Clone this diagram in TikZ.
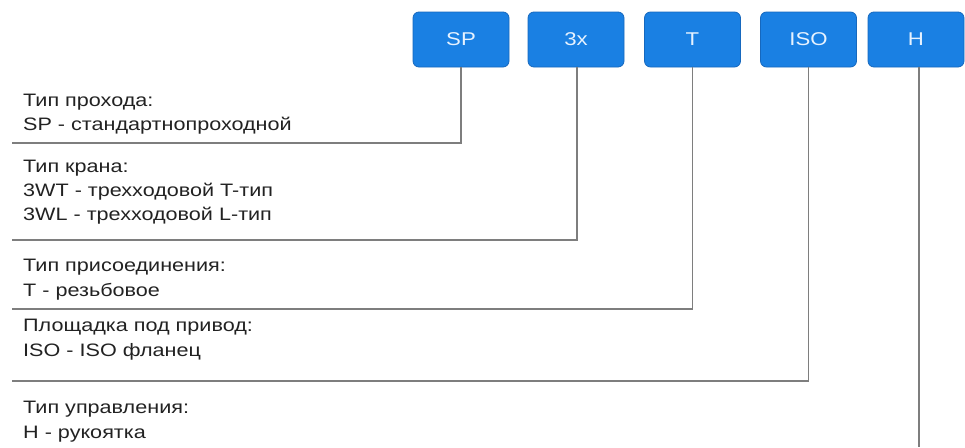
\documentclass[tikz,border=0pt]{standalone}
\usepackage{fontspec}
\setmainfont[FakeStretch=1.2]{Liberation Sans}
\definecolor{boxblue}{HTML}{1A80E3}
\definecolor{boxborder}{HTML}{1668BE}
\definecolor{boxtext}{HTML}{E6F2FF}
\definecolor{linegray}{HTML}{7E7E7E}
\definecolor{textdark}{HTML}{222222}
\begin{document}
\begin{tikzpicture}[x=1pt,y=-1pt,
  codebox/.style={draw=boxborder, line width=0.8pt, fill=boxblue, rounded corners=6pt,
    minimum width=96pt, minimum height=55pt, inner sep=0pt, text=boxtext,
    font=\fontsize{18.5}{18.5}\selectfont},
  lbl/.style={anchor=base west, inner sep=0pt, text=textdark,
    font=\fontsize{18}{20}\selectfont},
  conn/.style={draw=linegray, line width=1.3pt}]
\useasboundingbox (0,0) rectangle (965,447);
\fill[white] (0,0) rectangle (965,447);

\node[codebox] (SP)  at (461,39.5) {SP};
\node[codebox] (X)   at (576,39.5) {3x};
\node[codebox] (T)   at (692.5,39.5) {T};
\node[codebox] (ISO) at (808.5,39.5) {ISO};
\node[codebox] (H)   at (916,39.5) {H};

\coordinate (r1) at (12,143);
\coordinate (r2) at (12,240);
\coordinate (r3) at (12,309);
\coordinate (r4) at (12,381);
\coordinate (r5) at (919,447);

\draw[conn] (SP.south) |- (r1);
\draw[conn] ([xshift=1pt]X.south) |- (r2);
\draw[conn] (T.south) |- (r3);
\draw[conn] (ISO.south) |- (r4);
\draw[conn] ([xshift=3pt]H.south) -- (r5);

\node[lbl] (a1) at (23,106) {Тип прохода:};
\node[lbl] (a2) at (23,130) {SP - стандартнопроходной};

\node[lbl] (b1) at (23,172) {Тип крана:};
\node[lbl] (b2) at (23,196) {3WT - трехходовой T-тип};
\node[lbl] (b3) at (23,220) {3WL - трехходовой L-тип};

\node[lbl] (c1) at (23,271) {Тип присоединения:};
\node[lbl] (c2) at (23,296) {T - резьбовое};

\node[lbl] (d1) at (23,331) {Площадка под привод:};
\node[lbl] (d2) at (23,356) {ISO - ISO фланец};

\node[lbl] (e1) at (23,413) {Тип управления:};
\node[lbl] (e2) at (23,438) {H - рукоятка};
\end{tikzpicture}
\end{document}
